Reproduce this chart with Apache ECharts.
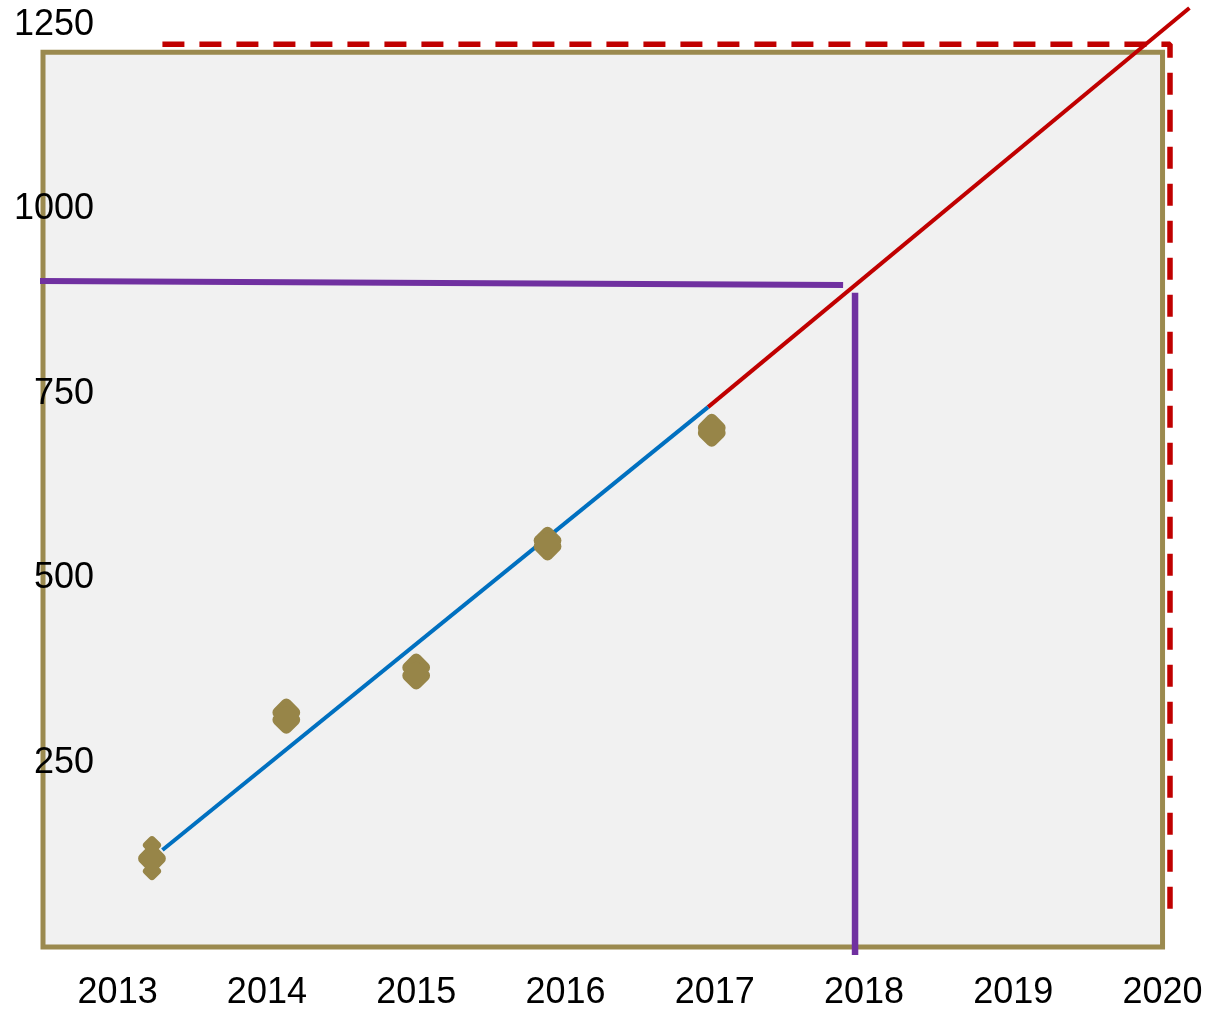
<!DOCTYPE html>
<html>
<head>
<meta charset="utf-8">
<script src="https://cdn.jsdelivr.net/npm/echarts@6/dist/echarts.min.js"></script>
<style>
  html, body { margin: 0; padding: 0; background: #ffffff; }
  #chart { width: 1225px; height: 1011px; }
</style>
</head>
<body>
<div id="chart"></div>
<script>
// ---- data ----
const xTickYears = [2013, 2014, 2015, 2016, 2017, 2018, 2019, 2020];
const yTickValues = [250, 500, 750, 1000, 1250];

// observed points (each year shows overlapping markers)
const clusterYears = [2013.23, 2014.13, 2015.00, 2015.88, 2016.98];
const obsUpper = [120, 318, 379, 551, 704];
const obsLower = [120, 308, 368, 543, 697];
const extraYear = [2013.23, 2013.23];
const extraValues = [138, 103];

// fitted trend (blue) and forecast (red)
const fitLine = [[2013.30, 131.5], [2016.955, 732]];
const forecastLine = [[2016.955, 732], [2020.18, 1273]];

// purple reading guides at 2018
const guideHorizontal = [[2012.48, 903], [2017.86, 897.5]];
const guideVertical = [[2017.94, 887], [2017.94, -11]];

// red dashed limit box
const limitBox = [[2013.30, 1224], [2020.05, 1224], [2020.05, 32]];

// plot frame extent
const frameX = [2012.5, 2020];
const frameY = [0, 1213];

// ---- build chart ----
const scatterData = [];
clusterYears.forEach((yr, i) => {
  scatterData.push([yr, obsUpper[i]]);
  if (obsLower[i] !== obsUpper[i]) scatterData.push([yr, obsLower[i]]);
});
const extraData = extraYear.map((yr, i) => [yr, extraValues[i]]);

const GOLD = '#978548';
const FRAME = '#9b8a4f';
const FONT = "'Liberation Sans', Arial, sans-serif";

const chart = echarts.init(document.getElementById('chart'), null, { renderer: 'canvas' });
chart.setOption({
  animation: false,
  backgroundColor: '#ffffff',
  // x: 149.27 px per year from 2012.5 at x=43; y: 0.7376 px per unit, 0 at y=947
  grid: { left: 43, right: 32.6, top: 6.6, bottom: 64, containLabel: false },
  xAxis: {
    type: 'value',
    min: 2012.5,
    max: 2020.2,
    interval: 0.5,
    axisLine: { show: false },
    axisTick: { show: false },
    splitLine: { show: false },
    axisLabel: {
      margin: 28,
      fontSize: 36,
      fontFamily: FONT,
      color: '#000',
      showMaxLabel: false,
      formatter: v => (xTickYears.indexOf(v) >= 0 ? String(v) : '')
    }
  },
  yAxis: {
    type: 'value',
    min: 0,
    max: 1275,
    interval: 250,
    axisLine: { show: false },
    axisTick: { show: false },
    splitLine: { show: false },
    axisLabel: {
      inside: true,
      align: 'right',
      margin: 51,
      fontSize: 36,
      fontFamily: FONT,
      color: '#000',
      showMaxLabel: false,
      formatter: v => (yTickValues.indexOf(v) >= 0 ? String(v) : '')
    },
    z: 10
  },
  series: [
    {
      name: 'frame',
      type: 'line',
      data: [],
      z: 0,
      silent: true,
      markArea: {
        silent: true,
        itemStyle: { color: '#f1f1f1', borderColor: FRAME, borderWidth: 5 },
        data: [[{ coord: [frameX[0], frameY[0]] }, { coord: [frameX[1], frameY[1]] }]]
      }
    },
    {
      name: 'limit',
      type: 'line',
      data: limitBox,
      symbol: 'none',
      clip: false,
      z: 2,
      lineStyle: { color: '#c00000', width: 5.5, type: [22, 15] }
    },
    {
      name: 'guideH',
      type: 'line',
      data: guideHorizontal,
      symbol: 'none',
      clip: false,
      z: 3,
      lineStyle: { color: '#7030a0', width: 6 }
    },
    {
      name: 'guideV',
      type: 'line',
      data: guideVertical,
      symbol: 'none',
      clip: false,
      z: 3,
      lineStyle: { color: '#7030a0', width: 6.5 }
    },
    {
      name: 'forecast',
      type: 'line',
      data: forecastLine,
      symbol: 'none',
      clip: false,
      z: 4,
      lineStyle: { color: '#c00000', width: 4 }
    },
    {
      name: 'fit',
      type: 'line',
      data: fitLine,
      symbol: 'none',
      clip: false,
      z: 4,
      lineStyle: { color: '#0070c0', width: 4 }
    },
    {
      name: 'extra',
      type: 'scatter',
      data: extraData,
      symbol: 'roundRect',
      symbolSize: 15,
      symbolRotate: 45,
      z: 5,
      itemStyle: { color: GOLD, opacity: 1 }
    },
    {
      name: 'observed',
      type: 'scatter',
      data: scatterData,
      symbol: 'roundRect',
      symbolSize: 23,
      symbolRotate: 45,
      z: 6,
      itemStyle: { color: GOLD, opacity: 1 }
    }
  ]
});
</script>
</body>
</html>
